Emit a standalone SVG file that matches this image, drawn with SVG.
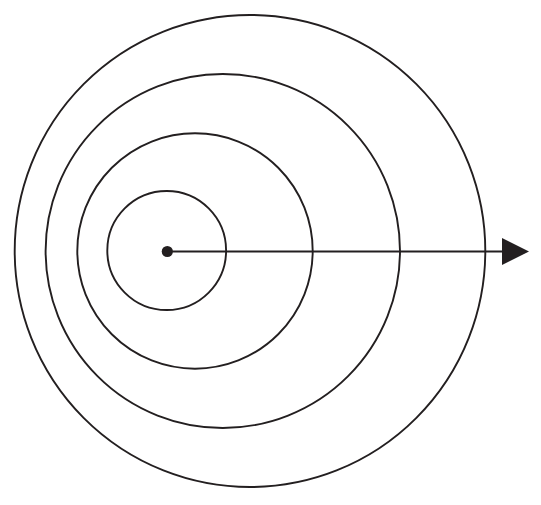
<svg xmlns="http://www.w3.org/2000/svg" width="541" height="505" viewBox="0 0 541 505">
<style>
.ring{fill:none;stroke:#231f20;stroke-width:1.9}
.conn{fill:none;stroke:#231f20;stroke-width:1.9}
</style>
<defs>
<marker id="arrow" markerUnits="userSpaceOnUse" markerWidth="28" markerHeight="28" refX="0" refY="14" orient="auto" viewBox="0 0 28 28">
<polygon points="0,0.5 27,14 0,27.5" fill="#231f20"/>
</marker>
</defs>
<rect width="541" height="505" fill="#ffffff"/>
<g id="ring4"><ellipse class="ring" cx="250" cy="251" rx="235.3" ry="236"/></g>
<g id="ring3"><ellipse class="ring" cx="222.8" cy="251" rx="177.2" ry="177"/></g>
<g id="ring2"><ellipse class="ring" cx="195" cy="251" rx="117.7" ry="117.7"/></g>
<g id="ring1"><ellipse class="ring" cx="166.7" cy="250.5" rx="59.4" ry="59.5"/></g>
<g id="center"><circle cx="167.3" cy="251.5" r="5.6" fill="#231f20"/></g>
<g id="connectors">
<line class="conn" x1="167.3" y1="251.5" x2="502" y2="251.5" marker-end="url(#arrow)"/>
</g>
</svg>
